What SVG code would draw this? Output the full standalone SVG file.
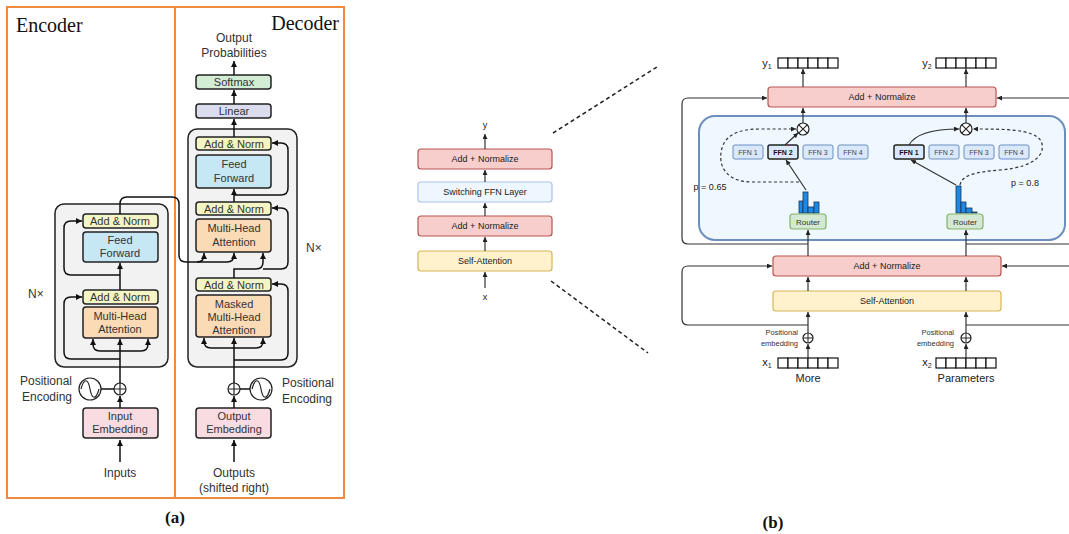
<svg xmlns="http://www.w3.org/2000/svg" width="1069" height="534" viewBox="0 0 1069 534">
  <defs>
    <marker id="ah" viewBox="0 0 10 10" refX="10" refY="5" markerWidth="6" markerHeight="6" markerUnits="userSpaceOnUse" orient="auto">
      <path d="M0,0 L10,5 L0,10 z" fill="#111"/>
    </marker>
    <marker id="ahs" viewBox="0 0 10 10" refX="10" refY="5" markerWidth="5" markerHeight="5" markerUnits="userSpaceOnUse" orient="auto">
      <path d="M0,0 L10,5 L0,10 z" fill="#222"/>
    </marker>
    <style>
      .frame { fill: none; stroke: #f08a3e; stroke-width: 2; }
      .serif { font-family: "Liberation Serif", "DejaVu Serif", serif; fill: #111; }
      .lbl { font-family: "Liberation Sans", Arial, sans-serif; font-size: 12px; fill: #333; }
      .blk { font-family: "Liberation Sans", Arial, sans-serif; font-size: 11px; fill: #333; text-anchor: middle; }
      .stack { fill: #f2f2f2; stroke: #222; stroke-width: 1.5; }
      .box { stroke: #222; stroke-width: 1.5; }
      .norm { fill: #f3f6c4; }
      .ff { fill: #c6e7f4; }
      .att { fill: #fbdbb6; }
      .emb { fill: #f8dce2; }
      .soft { fill: #d3ecd4; }
      .lin { fill: #dcdcef; }
      .wire { fill: none; stroke: #111; stroke-width: 1.5; }
      .wb { fill: none; stroke: #333; stroke-width: 1.2; }
      .dash { fill: none; stroke: #222; stroke-width: 1.5; stroke-dasharray: 4 3; }
      .dash2 { fill: none; stroke: #333; stroke-width: 1.2; stroke-dasharray: 3 2.5; }
      .an { fill: #f8cecc; stroke: #b85450; stroke-width: 1.2; }
      .sa { fill: #fff2cc; stroke: #d6b656; stroke-width: 1.2; }
      .sw { fill: #eef7ff; stroke: #a9c4eb; stroke-width: 1.2; }
      .moe { fill: #eff8fe; stroke: #6c8ebf; stroke-width: 2; }
      .ffn { fill: #dae8fc; stroke: #6c8ebf; stroke-width: 1; }
      .ffnsel { fill: #dae8fc; stroke: #222; stroke-width: 1.5; }
      .router { fill: #d5e8d4; stroke: #82b366; stroke-width: 1.2; }
      .bar { fill: #1f88e5; stroke: #1a3558; stroke-width: 0.8; }
      .t9 { font-family: "Liberation Sans", Arial, sans-serif; font-size: 9px; fill: #1a1a1a; text-anchor: middle; }
      .t7 { font-family: "Liberation Sans", Arial, sans-serif; font-size: 7px; fill: #444; text-anchor: middle; }
      .t7b { font-family: "Liberation Sans", Arial, sans-serif; font-size: 7px; fill: #111; font-weight: bold; text-anchor: middle; }
      .t8 { font-family: "Liberation Sans", Arial, sans-serif; font-size: 8px; fill: #333; text-anchor: middle; }
      .tpos { font-family: "Liberation Sans", Arial, sans-serif; font-size: 7.5px; fill: #333; text-anchor: end; }
      .tw { font-family: "Liberation Sans", Arial, sans-serif; font-size: 11px; fill: #222; text-anchor: middle; }
      .cell { fill: #fff; stroke: #111; stroke-width: 1.2; }
      .sym { fill: #fff; stroke: #222; stroke-width: 1.2; }
    </style>
  </defs>

  <!-- ===== (a) Transformer ===== -->
  <g id="encoder-frame">
    <rect class="frame" x="7" y="7" width="168" height="491"/>
    <text class="serif" x="16" y="32" font-size="20">Encoder</text>
  </g>
  <g id="decoder-frame">
    <rect class="frame" x="175" y="7" width="169" height="491"/>
    <text class="serif" x="339" y="30" font-size="20" text-anchor="end">Decoder</text>
  </g>

  <g id="encoder-stack">
    <rect class="stack" x="55" y="204" width="113" height="163" rx="9"/>
    <text class="lbl" x="28" y="298">N×</text>
  </g>
  <g id="enc-addnorm-2">
    <rect class="box norm" x="83" y="214" width="75" height="14" rx="3"/>
    <text class="blk" x="120" y="225">Add &amp; Norm</text>
  </g>
  <g id="enc-feedforward">
    <rect class="box ff" x="83" y="232" width="75" height="30" rx="3"/>
    <text class="blk" x="120" y="244">Feed</text>
    <text class="blk" x="120" y="257">Forward</text>
  </g>
  <g id="enc-addnorm-1">
    <rect class="box norm" x="83" y="290" width="75" height="14" rx="3"/>
    <text class="blk" x="120" y="301">Add &amp; Norm</text>
  </g>
  <g id="enc-attention">
    <rect class="box att" x="83" y="307" width="75" height="31" rx="3"/>
    <text class="blk" x="120" y="320">Multi-Head</text>
    <text class="blk" x="120" y="333">Attention</text>
  </g>
  <g id="enc-posenc">
    <circle class="sym" cx="90" cy="389" r="11"/>
    <path d="M81,389 C84,378 88,378 90,389 S96,400 99,389" fill="none" stroke="#222" stroke-width="1.2"/>
    <circle class="sym" cx="120" cy="389" r="6"/>
    <path d="M114,389 H126 M120,383 V395" stroke="#222" stroke-width="1.2"/>
    <text class="lbl" x="72" y="385" text-anchor="end">Positional</text>
    <text class="lbl" x="72" y="401" text-anchor="end">Encoding</text>
  </g>
  <g id="enc-embedding">
    <rect class="box emb" x="83" y="408" width="75" height="30" rx="3"/>
    <text class="blk" x="120" y="420">Input</text>
    <text class="blk" x="120" y="433">Embedding</text>
    <text class="lbl" x="120" y="477" text-anchor="middle">Inputs</text>
  </g>

  <g id="decoder-stack">
    <rect class="stack" x="188" y="129" width="109" height="238" rx="9"/>
    <text class="lbl" x="306" y="252">N×</text>
  </g>
  <g id="dec-output-label">
    <text class="lbl" x="234" y="42" text-anchor="middle">Output</text>
    <text class="lbl" x="234" y="57" text-anchor="middle">Probabilities</text>
  </g>
  <g id="dec-softmax">
    <rect class="box soft" x="196" y="75" width="75" height="14" rx="3"/>
    <text class="blk" x="234" y="86">Softmax</text>
  </g>
  <g id="dec-linear">
    <rect class="box lin" x="196" y="104" width="75" height="14" rx="3"/>
    <text class="blk" x="234" y="115">Linear</text>
  </g>
  <g id="dec-addnorm-3">
    <rect class="box norm" x="196" y="137" width="75" height="13" rx="3"/>
    <text class="blk" x="234" y="147.5">Add &amp; Norm</text>
  </g>
  <g id="dec-feedforward">
    <rect class="box ff" x="196" y="155" width="75" height="33" rx="3"/>
    <text class="blk" x="234" y="168">Feed</text>
    <text class="blk" x="234" y="182">Forward</text>
  </g>
  <g id="dec-addnorm-2">
    <rect class="box norm" x="196" y="202" width="75" height="13" rx="3"/>
    <text class="blk" x="234" y="212.5">Add &amp; Norm</text>
  </g>
  <g id="dec-cross-attention">
    <rect class="box att" x="196" y="219" width="75" height="33" rx="3"/>
    <text class="blk" x="234" y="232">Multi-Head</text>
    <text class="blk" x="234" y="246">Attention</text>
  </g>
  <g id="dec-addnorm-1">
    <rect class="box norm" x="196" y="278" width="75" height="13" rx="3"/>
    <text class="blk" x="234" y="288.5">Add &amp; Norm</text>
  </g>
  <g id="dec-masked-attention">
    <rect class="box att" x="196" y="295" width="75" height="42" rx="3"/>
    <text class="blk" x="234" y="308">Masked</text>
    <text class="blk" x="234" y="321">Multi-Head</text>
    <text class="blk" x="234" y="334">Attention</text>
  </g>
  <g id="dec-posenc">
    <circle class="sym" cx="261" cy="389" r="11"/>
    <path d="M252,389 C255,378 259,378 261,389 S267,400 270,389" fill="none" stroke="#222" stroke-width="1.2"/>
    <circle class="sym" cx="234" cy="389" r="6"/>
    <path d="M228,389 H240 M234,383 V395" stroke="#222" stroke-width="1.2"/>
    <text class="lbl" x="282" y="387">Positional</text>
    <text class="lbl" x="282" y="403">Encoding</text>
  </g>
  <g id="dec-embedding">
    <rect class="box emb" x="196" y="408" width="75" height="30" rx="3"/>
    <text class="blk" x="234" y="420">Output</text>
    <text class="blk" x="234" y="433">Embedding</text>
    <text class="lbl" x="234" y="477" text-anchor="middle">Outputs</text>
    <text class="lbl" x="234" y="492" text-anchor="middle">(shifted right)</text>
  </g>

  <g id="connectors-a">
    <!-- encoder -->
    <path class="wire" d="M120,462 V440" marker-end="url(#ah)"/>
    <path class="wire" d="M120,408 V396" marker-end="url(#ah)"/>
    <path class="wire" d="M101,389 H114"/>
    <path class="wire" d="M120,383 V339" marker-end="url(#ah)"/>
    <path class="wire" d="M120,351 H100 Q93,351 93,344 V339" marker-end="url(#ah)"/>
    <path class="wire" d="M120,351 H141 Q148,351 148,344 V339" marker-end="url(#ah)"/>
    <path class="wire" d="M120,359 H71 Q64,359 64,352 V304 Q64,297 71,297 H82" marker-end="url(#ah)"/>
    <path class="wire" d="M120,290 V263" marker-end="url(#ah)"/>
    <path class="wire" d="M120,275 H71 Q64,275 64,268 V228 Q64,221 71,221 H82" marker-end="url(#ah)"/>
    <path class="wire" d="M120,214 V204 Q120,197 127,197 H172 Q179,197 179,204 V255 Q179,262 186,262 H227 Q234,262 234,255 V253" marker-end="url(#ah)"/>
    <path class="wire" d="M197,262 Q204,262 204,255 V253" marker-end="url(#ah)"/>
    <!-- decoder -->
    <path class="wire" d="M234,462 V440" marker-end="url(#ah)"/>
    <path class="wire" d="M234,408 V396" marker-end="url(#ah)"/>
    <path class="wire" d="M240,389 H250"/>
    <path class="wire" d="M234,383 V338" marker-end="url(#ah)"/>
    <path class="wire" d="M234,348 H211 Q204,348 204,341 V338" marker-end="url(#ah)"/>
    <path class="wire" d="M234,348 H256 Q263,348 263,341 V338" marker-end="url(#ah)"/>
    <path class="wire" d="M234,360 H281 Q288,360 288,353 V291 Q288,284 281,284 H272" marker-end="url(#ah)"/>
    <path class="wire" d="M234,278 V269 H256 Q263,269 263,262 V253" marker-end="url(#ah)"/>
    <path class="wire" d="M263,269 H281 Q288,269 288,262 V215 Q288,208 281,208 H272" marker-end="url(#ah)"/>
    <path class="wire" d="M234,202 V189" marker-end="url(#ah)"/>
    <path class="wire" d="M234,195 H281 Q288,195 288,188 V150 Q288,143 281,143 H272" marker-end="url(#ah)"/>
    <path class="wire" d="M234,137 V119" marker-end="url(#ah)"/>
    <path class="wire" d="M234,104 V90" marker-end="url(#ah)"/>
    <path class="wire" d="M234,75 V61" marker-end="url(#ah)"/>
  </g>

  <text class="serif" x="175" y="523" font-size="17" font-weight="bold" text-anchor="middle">(a)</text>

  <!-- ===== (b) Switch Transformer ===== -->
  <g id="mini-stack">
    <text class="t9" x="485" y="128">y</text>
    <rect class="an" x="418" y="149" width="134" height="20" rx="3"/>
    <text class="t9" x="485" y="162">Add + Normalize</text>
    <rect class="sw" x="418" y="182" width="134" height="20" rx="3"/>
    <text class="t9" x="485" y="195">Switching FFN Layer</text>
    <rect class="an" x="418" y="216" width="134" height="20" rx="3"/>
    <text class="t9" x="485" y="229">Add + Normalize</text>
    <rect class="sa" x="418" y="251" width="134" height="20" rx="3"/>
    <text class="t9" x="485" y="264">Self-Attention</text>
    <text class="t9" x="485" y="300">x</text>
  </g>

  <g id="zoom-guides">
    <path class="dash" d="M553,133 L657,67"/>
    <path class="dash" d="M551,281 L648,353"/>
  </g>

  <g id="top-addnorm">
    <rect class="an" x="768" y="87" width="228" height="20" rx="3"/>
    <text class="t9" x="882" y="100">Add + Normalize</text>
  </g>
  <g id="moe-layer">
    <rect class="moe" x="699" y="116" width="366" height="124" rx="16"/>
  </g>
  <g id="ffn-left">
    <rect class="ffn" x="733" y="145" width="30" height="14" rx="2"/>
    <text class="t7" x="748" y="154.5">FFN 1</text>
    <rect class="ffnsel" x="768" y="145" width="30" height="14" rx="2"/>
    <text class="t7b" x="783" y="154.5">FFN 2</text>
    <rect class="ffn" x="803" y="145" width="30" height="14" rx="2"/>
    <text class="t7" x="818" y="154.5">FFN 3</text>
    <rect class="ffn" x="838" y="145" width="30" height="14" rx="2"/>
    <text class="t7" x="853" y="154.5">FFN 4</text>
  </g>
  <g id="ffn-right">
    <rect class="ffnsel" x="894" y="145" width="30" height="14" rx="2"/>
    <text class="t7b" x="909" y="154.5">FFN 1</text>
    <rect class="ffn" x="929" y="145" width="30" height="14" rx="2"/>
    <text class="t7" x="944" y="154.5">FFN 2</text>
    <rect class="ffn" x="964" y="145" width="30" height="14" rx="2"/>
    <text class="t7" x="979" y="154.5">FFN 3</text>
    <rect class="ffn" x="999" y="145" width="30" height="14" rx="2"/>
    <text class="t7" x="1014" y="154.5">FFN 4</text>
  </g>
  <g id="router-left">
    <rect class="bar" x="799" y="201" width="4" height="12"/>
    <rect class="bar" x="803" y="192" width="5" height="21"/>
    <rect class="bar" x="808" y="207" width="6" height="6"/>
    <rect class="bar" x="814" y="202" width="5" height="11"/>
    <rect class="router" x="790" y="214" width="36" height="15" rx="3"/>
    <text class="t8" x="808" y="224.5">Router</text>
    <text class="t9" x="710" y="190" text-anchor="start">p = 0.65</text>
  </g>
  <g id="router-right">
    <rect class="bar" x="956" y="186" width="5" height="27"/>
    <rect class="bar" x="961" y="202" width="5" height="11"/>
    <rect class="bar" x="966" y="208" width="6" height="5"/>
    <rect class="bar" x="972" y="212" width="5" height="1"/>
    <rect class="router" x="947" y="214" width="36" height="15" rx="3"/>
    <text class="t8" x="965" y="224.5">Router</text>
    <text class="t9" x="1025" y="186" text-anchor="start">p = 0.8</text>
  </g>
  <g id="mult-left">
    <circle class="sym" cx="803" cy="129" r="6"/>
    <path d="M798.8,124.8 L807.2,133.2 M807.2,124.8 L798.8,133.2" stroke="#222" stroke-width="1.1"/>
  </g>
  <g id="mult-right">
    <circle class="sym" cx="966" cy="129" r="6"/>
    <path d="M961.8,124.8 L970.2,133.2 M970.2,124.8 L961.8,133.2" stroke="#222" stroke-width="1.1"/>
  </g>
  <g id="out-y1">
    <text class="tw" x="767" y="67" font-size="10">y<tspan font-size="7" dy="2">1</tspan></text>
    <rect class="cell" x="778" y="58" width="10" height="10"/>
    <rect class="cell" x="788" y="58" width="10" height="10"/>
    <rect class="cell" x="798" y="58" width="10" height="10"/>
    <rect class="cell" x="808" y="58" width="10" height="10"/>
    <rect class="cell" x="818" y="58" width="10" height="10"/>
    <rect class="cell" x="828" y="58" width="10" height="10"/>
  </g>
  <g id="out-y2">
    <text class="tw" x="927" y="67" font-size="10">y<tspan font-size="7" dy="2">2</tspan></text>
    <rect class="cell" x="936" y="58" width="10" height="10"/>
    <rect class="cell" x="946" y="58" width="10" height="10"/>
    <rect class="cell" x="956" y="58" width="10" height="10"/>
    <rect class="cell" x="966" y="58" width="10" height="10"/>
    <rect class="cell" x="976" y="58" width="10" height="10"/>
    <rect class="cell" x="986" y="58" width="10" height="10"/>
  </g>
  <g id="lower-addnorm">
    <rect class="an" x="773" y="256" width="228" height="20" rx="3"/>
    <text class="t9" x="887" y="269">Add + Normalize</text>
  </g>
  <g id="self-attention">
    <rect class="sa" x="773" y="291" width="228" height="20" rx="3"/>
    <text class="t9" x="887" y="304">Self-Attention</text>
  </g>
  <g id="pos-left">
    <circle class="sym" cx="808" cy="338" r="5"/>
    <path d="M803,338 H813 M808,333 V343" stroke="#222" stroke-width="1"/>
    <text class="tpos" x="798" y="335">Positional</text>
    <text class="tpos" x="798" y="346">embedding</text>
  </g>
  <g id="pos-right">
    <circle class="sym" cx="966" cy="338" r="5"/>
    <path d="M961,338 H971 M966,333 V343" stroke="#222" stroke-width="1"/>
    <text class="tpos" x="954" y="335">Positional</text>
    <text class="tpos" x="954" y="346">embedding</text>
  </g>
  <g id="in-x1">
    <text class="tw" x="767" y="366" font-size="10">x<tspan font-size="7" dy="2">1</tspan></text>
    <rect class="cell" x="778" y="358" width="10" height="10"/>
    <rect class="cell" x="788" y="358" width="10" height="10"/>
    <rect class="cell" x="798" y="358" width="10" height="10"/>
    <rect class="cell" x="808" y="358" width="10" height="10"/>
    <rect class="cell" x="818" y="358" width="10" height="10"/>
    <rect class="cell" x="828" y="358" width="10" height="10"/>
    <text class="tw" x="808" y="382">More</text>
  </g>
  <g id="in-x2">
    <text class="tw" x="927" y="366" font-size="10">x<tspan font-size="7" dy="2">2</tspan></text>
    <rect class="cell" x="936" y="358" width="10" height="10"/>
    <rect class="cell" x="946" y="358" width="10" height="10"/>
    <rect class="cell" x="956" y="358" width="10" height="10"/>
    <rect class="cell" x="966" y="358" width="10" height="10"/>
    <rect class="cell" x="976" y="358" width="10" height="10"/>
    <rect class="cell" x="986" y="358" width="10" height="10"/>
    <text class="tw" x="966" y="382">Parameters</text>
  </g>

  <g id="connectors-b">
    <!-- mini stack -->
    <path class="wb" d="M485,288 V272" marker-end="url(#ahs)"/>
    <path class="wb" d="M485,251 V237" marker-end="url(#ahs)"/>
    <path class="wb" d="M485,216 V203" marker-end="url(#ahs)"/>
    <path class="wb" d="M485,182 V170" marker-end="url(#ahs)"/>
    <path class="wb" d="M485,149 V134" marker-end="url(#ahs)"/>
    <!-- token columns -->
    <path class="wb" d="M808,358 V344" marker-end="url(#ahs)"/>
    <path class="wb" d="M808,333 V312" marker-end="url(#ahs)"/>
    <path class="wb" d="M808,291 V277" marker-end="url(#ahs)"/>
    <path class="wb" d="M808,256 V230" marker-end="url(#ahs)"/>
    <path class="wb" d="M966,358 V344" marker-end="url(#ahs)"/>
    <path class="wb" d="M966,333 V312" marker-end="url(#ahs)"/>
    <path class="wb" d="M966,291 V277" marker-end="url(#ahs)"/>
    <path class="wb" d="M966,256 V230" marker-end="url(#ahs)"/>
    <path class="wb" d="M803,123 V108" marker-end="url(#ahs)"/>
    <path class="wb" d="M966,123 V108" marker-end="url(#ahs)"/>
    <path class="wb" d="M803,87 V69" marker-end="url(#ahs)"/>
    <path class="wb" d="M966,87 V69" marker-end="url(#ahs)"/>
    <!-- residuals -->
    <path class="wb" d="M808,325 H688 Q682,325 682,319 V272 Q682,266 688,266 H772" marker-end="url(#ahs)"/>
    <path class="wb" d="M966,325 H1069"/>
    <path class="wb" d="M1069,266 H1002" marker-end="url(#ahs)"/>
    <path class="wb" d="M808,244 H688 Q682,244 682,238 V104 Q682,98 688,98 H767" marker-end="url(#ahs)"/>
    <path class="wb" d="M966,244 H1069"/>
    <path class="wb" d="M1069,98 H997" marker-end="url(#ahs)"/>
    <!-- routing -->
    <path class="wb" d="M806,190 L786,160" marker-end="url(#ahs)"/>
    <path class="wb" d="M785,145 L798,133" marker-end="url(#ahs)"/>
    <path class="wb" d="M956,185 L911,160" marker-end="url(#ahs)"/>
    <path class="wb" d="M909,145 Q918,129 959,129" marker-end="url(#ahs)"/>
    <path class="dash2" d="M799,182 H752 C728,182 719,168 721,153 C723,137 735,129 760,129 H796" marker-end="url(#ahs)"/>
    <path class="dash2" d="M960,185 C962,175 975,172 1000,170 C1038,167 1046,152 1041,141 C1034,129 1005,129 973,129" marker-end="url(#ahs)"/>
  </g>

  <text class="serif" x="773" y="528" font-size="17" font-weight="bold" text-anchor="middle">(b)</text>
</svg>
